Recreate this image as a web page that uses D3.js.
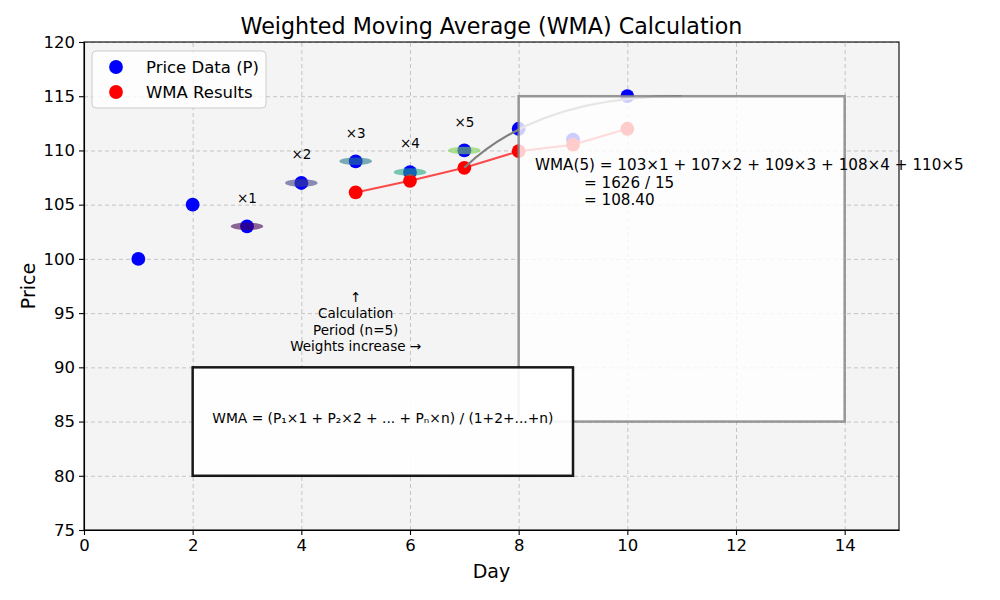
<!DOCTYPE html>
<html>
<head>
<meta charset="utf-8">
<title>WMA</title>
<script src="https://cdn.jsdelivr.net/npm/d3@7/dist/d3.min.js"></script>
<style>
    body { margin: 0; background: white; }
    svg text { font-family: "DejaVu Sans", sans-serif; }
    .grid line { stroke: #b0b0b0; stroke-opacity: 0.7; stroke-dasharray: 4,3; }
    .grid path { display: none; }
    .axis text { font-size: 16.5px; fill: black; }
    .axis path, .axis line { stroke: black; stroke-width: 1.1; }
</style>
</head>
<body>
<svg width="1000" height="600" id="mainsvg"></svg>
<script>
    // data
    const days = [1, 2, 3, 4, 5, 6, 7, 8, 9, 10];
    const prices = [100, 105, 103, 107, 109, 108, 110, 112, 111, 115];
    const wmaDays = [5, 6, 7, 8, 9, 10];
    const wmaValues = [106.13, 107.20, 108.40, 109.93, 110.53, 112.00];
    const weightDays = [3, 4, 5, 6, 7];
    const weightPrices = [103, 107, 109, 108, 110];
    const weightLabels = ['×1', '×2', '×3', '×4', '×5'];
    const weightColors = ['#440154', '#414487', '#2a788e', '#22a884', '#7ad151'];
    const xTicks = [0, 2, 4, 6, 8, 10, 12, 14];
    const yTicks = [75, 80, 85, 90, 95, 100, 105, 110, 115, 120];
    const legendLabels = ['Price Data (P)', 'WMA Results'];

    const svg = d3.select('#mainsvg');
    const margin = { top: 42, right: 101, bottom: 70, left: 84 };
    const innerWidth = 1000 - margin.left - margin.right;
    const innerHeight = 600 - margin.top - margin.bottom;
    const g = svg.append('g').attr('transform', `translate(${margin.left}, ${margin.top})`);

    const x = d3.scaleLinear().domain([0, 15]).range([0, innerWidth]);
    const y = d3.scaleLinear().domain([75, 120]).range([innerHeight, 0]);

    g.append('rect').attr('width', innerWidth).attr('height', innerHeight).attr('fill', '#f4f4f4');

    // grid
    g.append('g').attr('class', 'grid').attr('transform', `translate(0, ${innerHeight})`)
        .call(d3.axisBottom(x).tickValues(xTicks).tickSize(-innerHeight).tickFormat(''))
        .call(s => s.selectAll('text').remove());
    g.append('g').attr('class', 'grid')
        .call(d3.axisLeft(y).tickValues(yTicks).tickSize(-innerWidth).tickFormat(''))
        .call(s => s.selectAll('text').remove());

    // price points
    g.selectAll('.price').data(days).join('circle')
        .attr('class', 'price')
        .attr('cx', d => x(d)).attr('cy', (d, i) => y(prices[i]))
        .attr('r', 6.9).attr('fill', 'blue');

    // wma line + points
    const line = d3.line().x(d => x(d[0])).y(d => y(d[1]));
    g.append('path').datum(wmaDays.map((d, i) => [d, wmaValues[i]]))
        .attr('d', line).attr('fill', 'none').attr('stroke', 'red')
        .attr('stroke-opacity', 0.7).attr('stroke-width', 2);
    g.selectAll('.wma').data(wmaDays).join('circle')
        .attr('class', 'wma')
        .attr('cx', d => x(d)).attr('cy', (d, i) => y(wmaValues[i]))
        .attr('r', 6.9).attr('fill', 'red');

    // weight ellipses
    const ew = 0.6, eh = 0.7;
    g.selectAll('.wel').data(weightDays).join('ellipse')
        .attr('class', 'wel')
        .attr('cx', d => x(d)).attr('cy', (d, i) => y(weightPrices[i]))
        .attr('rx', (x(ew) - x(0)) / 2).attr('ry', (y(0) - y(eh)) / 2)
        .attr('fill', (d, i) => weightColors[i]).attr('fill-opacity', 0.6);
    g.selectAll('.wlab').data(weightDays).join('text')
        .attr('class', 'wlab')
        .attr('x', d => x(d)).attr('y', (d, i) => y(weightPrices[i] + 2) - 2)
        .attr('text-anchor', 'middle').attr('font-size', '13.5px')
        .text((d, i) => weightLabels[i]);

    // curved connector from day 7 WMA
    const cStart = [7, 108.4], cCtrl = [8.37, 115], cEnd = [11, 115];
    g.append('path')
        .attr('d', `M${x(cStart[0])},${y(cStart[1])} Q${x(cCtrl[0])},${y(cCtrl[1])} ${x(cEnd[0])},${y(cEnd[1])}`)
        .attr('fill', 'none').attr('stroke', 'gray').attr('stroke-width', 2.2);

    // calculation box
    g.append('rect')
        .attr('x', x(8)).attr('y', y(115))
        .attr('width', x(14) - x(8)).attr('height', y(85) - y(115))
        .attr('fill', 'white').attr('fill-opacity', 0.8)
        .attr('stroke', 'gray').attr('stroke-opacity', 0.8).attr('stroke-width', 2.5);

    // formula box
    g.append('rect')
        .attr('x', x(2)).attr('y', y(90))
        .attr('width', x(9) - x(2)).attr('height', y(80) - y(90))
        .attr('fill', 'white').attr('fill-opacity', 0.9)
        .attr('stroke', 'black').attr('stroke-opacity', 0.9).attr('stroke-width', 2.5);
    g.append('text')
        .attr('x', x(5.5)).attr('y', y(85) + 1)
        .attr('text-anchor', 'middle').attr('font-size', '13.8px')
        .text('WMA = (P₁×1 + P₂×2 + ... + Pₙ×n) / (1+2+...+n)');

    // period note
    const note = ['↑', 'Calculation', 'Period (n=5)', 'Weights increase →'];
    g.selectAll('.note').data(note).join('text')
        .attr('class', 'note')
        .attr('x', x(5)).attr('y', (d, i) => 260 + i * 16.3)
        .attr('text-anchor', 'middle').attr('font-size', '13.5px')
        .text(d => d);

    // WMA(5) calculation text
    const calc = ['WMA(5) = 103×1 + 107×2 + 109×3 + 108×4 + 110×5', '= 1626 / 15', '= 108.40'];
    const calcX = [0, 49, 49];
    g.selectAll('.calc').data(calc).join('text')
        .attr('class', 'calc')
        .attr('x', (d, i) => x(8.3) + calcX[i]).attr('y', (d, i) => y(109) + 9 + i * 17.5)
        .attr('font-size', '15.2px')
        .text(d => d);

    // axes
    g.append('g').attr('class', 'axis').attr('transform', `translate(0, ${innerHeight})`)
        .call(d3.axisBottom(x).tickValues(xTicks).tickSize(5).tickSizeOuter(0).tickPadding(4).tickFormat(d3.format('d')));
    g.append('g').attr('class', 'axis')
        .call(d3.axisLeft(y).tickValues(yTicks).tickSize(5).tickSizeOuter(0).tickPadding(4).tickFormat(d3.format('d')));
    g.append('rect').attr('width', innerWidth).attr('height', innerHeight)
        .attr('fill', 'none').attr('stroke', 'black').attr('stroke-width', 1.1);

    // labels
    svg.append('text').attr('x', margin.left + innerWidth / 2).attr('y', 34)
        .attr('text-anchor', 'middle').attr('font-size', '22.2px')
        .text('Weighted Moving Average (WMA) Calculation');
    svg.append('text').attr('x', margin.left + innerWidth / 2).attr('y', 578)
        .attr('text-anchor', 'middle').attr('font-size', '19px').text('Day');
    svg.append('text').attr('transform', 'translate(35, 286) rotate(-90)')
        .attr('text-anchor', 'middle').attr('font-size', '19px').text('Price');

    // legend
    const lg = g.append('g').attr('transform', 'translate(8, 9)');
    lg.append('rect').attr('width', 174).attr('height', 57).attr('rx', 4)
        .attr('fill', 'white').attr('fill-opacity', 0.8).attr('stroke', '#cccccc');
    const legColors = ['blue', 'red'];
    legendLabels.forEach((d, i) => {
        lg.append('circle').attr('cx', 24).attr('cy', 16 + i * 25).attr('r', 6.9).attr('fill', legColors[i]);
        lg.append('text').attr('x', 54).attr('y', 22 + i * 25).attr('font-size', '16.5px').text(d);
    });
</script>
</body>
</html>
